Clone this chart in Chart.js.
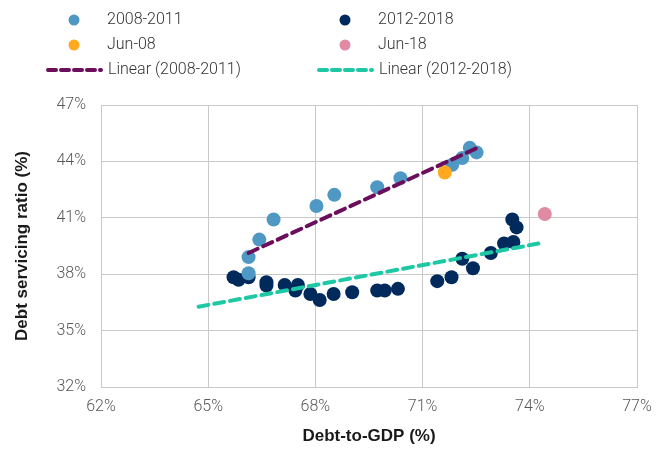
<!DOCTYPE html>
<html>
<head>
<meta charset="utf-8">
<script src="https://cdn.jsdelivr.net/npm/chart.js@4"></script>
<style>
  html, body { margin: 0; padding: 0; background: #fff; }
  #wrap { width: 657px; height: 451px; position: relative; }
</style>
</head>
<body>
<div id="wrap"><canvas id="chart" width="657" height="451"></canvas></div>
<script>
/* ---- dados (%) ---- */
const x2008 = [66.13, 66.13, 66.43, 66.83, 68.03, 68.53, 69.73, 70.38, 71.83, 72.11, 72.32, 72.51];
const y2008 = [38.05, 38.91, 39.84, 40.91, 41.63, 42.22, 42.63, 43.11, 43.82, 44.18, 44.72, 44.48];

const x2012 = [65.71, 65.85, 66.13, 66.63, 66.63, 67.14, 67.51, 67.44, 67.86, 68.12, 68.51, 69.03,
               69.73, 69.94, 70.31, 71.41, 71.81, 72.11, 72.41, 72.91, 73.28, 73.54, 73.51, 73.63];
const y2012 = [37.84, 37.70, 37.84, 37.57, 37.40, 37.43, 37.43, 37.13, 36.95, 36.63, 36.95, 37.04,
               37.13, 37.13, 37.22, 37.63, 37.84, 38.82, 38.32, 39.13, 39.63, 39.71, 40.91, 40.49];

const xJun08 = [71.62];
const yJun08 = [43.41];
const xJun18 = [74.42];
const yJun18 = [41.20];

const trendX2008 = [66.13, 72.53];
const trendY2008 = [39.13, 44.72];
const trendX2012 = [64.73, 74.24];
const trendY2012 = [36.27, 39.63];

const xTicks = [62, 65, 68, 71, 74, 77];
const yTicks = [32, 35, 38, 41, 44, 47];

const pts = (xs, ys) => xs.map((x, i) => ({ x, y: ys[i] }));

const FONT = 'Roboto, "Liberation Sans", sans-serif';
const FONT_TIT = '"Liberation Sans", Arial, sans-serif';

/* ---- legenda desenhada à mão (2 colunas) ---- */
const legendaPlugin = {
  id: 'legenda',
  afterDraw(chart) {
    const ctx = chart.ctx;
    const ds = chart.data.datasets;
    const cols = [74, 345];
    const rows = [20, 45, 70];
    const ordem = [2, 3, 4, 5, 0, 1]; // índices dos datasets, linha a linha
    ctx.save();
    ctx.font = '300 16px ' + FONT;
    ctx.fillStyle = '#333';
    ctx.textBaseline = 'middle';
    ordem.forEach((idx, k) => {
      const d = ds[idx];
      const cx = cols[k % 2];
      const cy = rows[Math.floor(k / 2)];
      if (d.showLine) {
        ctx.strokeStyle = d.borderColor;
        ctx.lineWidth = 4;
        ctx.setLineDash([8, 5]);
        ctx.lineCap = 'round';
        ctx.beginPath();
        ctx.moveTo(cx - 26, cy);
        ctx.lineTo(cx + 27, cy);
        ctx.stroke();
        ctx.setLineDash([]);
        ctx.fillText(d.label, cx + 34, cy);
      } else {
        ctx.fillStyle = d.backgroundColor;
        ctx.beginPath();
        ctx.arc(cx, cy, 5.5, 0, Math.PI * 2);
        ctx.fill();
        ctx.fillStyle = '#333';
        ctx.fillText(d.label, cx + 33, cy);
      }
    });
    ctx.restore();
  }
};

const linha = (label, xs, ys, cor) => ({
  type: 'line',
  label,
  data: pts(xs, ys),
  borderColor: cor,
  backgroundColor: cor,
  borderWidth: 4,
  borderDash: [10, 6],
  borderCapStyle: 'round',
  pointRadius: 0,
  showLine: true,
  fill: false,
  tension: 0,
  order: 0
});

const pontos = (label, xs, ys, cor, order) => ({
  type: 'scatter',
  label,
  data: pts(xs, ys),
  backgroundColor: cor,
  borderColor: cor,
  pointRadius: 7,
  pointBorderWidth: 0,
  order
});

new Chart(document.getElementById('chart'), {
  type: 'scatter',
  data: {
    datasets: [
      linha('Linear (2008-2011)', trendX2008, trendY2008, '#6b0f5c'),
      linha('Linear (2012-2018)', trendX2012, trendY2012, '#1ec8a5'),
      pontos('2008-2011', x2008, y2008, '#4f98c3', 2),
      pontos('2012-2018', x2012, y2012, '#002a5c', 2),
      pontos('Jun-08', xJun08, yJun08, '#ffa91f', 1),
      pontos('Jun-18', xJun18, yJun18, '#e08aa3', 1)
    ]
  },
  options: {
    responsive: false,
    animation: false,
    layout: { padding: { top: 105, right: 20, left: 0, bottom: 0 } },
    plugins: {
      legend: { display: false },
      tooltip: { enabled: false }
    },
    scales: {
      x: {
        type: 'linear',
        min: 62, max: 77,
        afterBuildTicks: s => { s.ticks = xTicks.map(v => ({ value: v })); },
        afterFit: s => { s.height = 64; s.paddingRight = 0; s.paddingLeft = 0; },
        grid: { color: '#c9c9c9', lineWidth: 1, drawTicks: false },
        border: { color: '#c9c9c9' },
        ticks: {
          padding: 10,
          color: '#595959',
          font: { family: FONT, size: 16, weight: '300' },
          callback: v => v + '%'
        },
        title: {
          display: true,
          text: 'Debt-to-GDP (%)',
          color: '#1a1a1a',
          font: { family: FONT_TIT, size: 17, weight: 'bold' },
          padding: { top: 8 }
        }
      },
      y: {
        type: 'linear',
        min: 32, max: 47,
        afterBuildTicks: s => { s.ticks = yTicks.map(v => ({ value: v })); },
        afterFit: s => { s.width = 101; s.paddingTop = 0; s.paddingBottom = 0; },
        grid: { color: '#c9c9c9', lineWidth: 1, drawTicks: false },
        border: { color: '#c9c9c9' },
        ticks: {
          padding: 15,
          color: '#595959',
          font: { family: FONT, size: 16, weight: '300' },
          callback: v => v + '%'
        },
        title: {
          display: true,
          text: 'Debt servicing ratio (%)',
          color: '#1a1a1a',
          font: { family: FONT_TIT, size: 17, weight: 'bold' },
          padding: { top: 12, bottom: 4 }
        }
      }
    }
  },
  plugins: [legendaPlugin]
});
</script>
</body>
</html>
